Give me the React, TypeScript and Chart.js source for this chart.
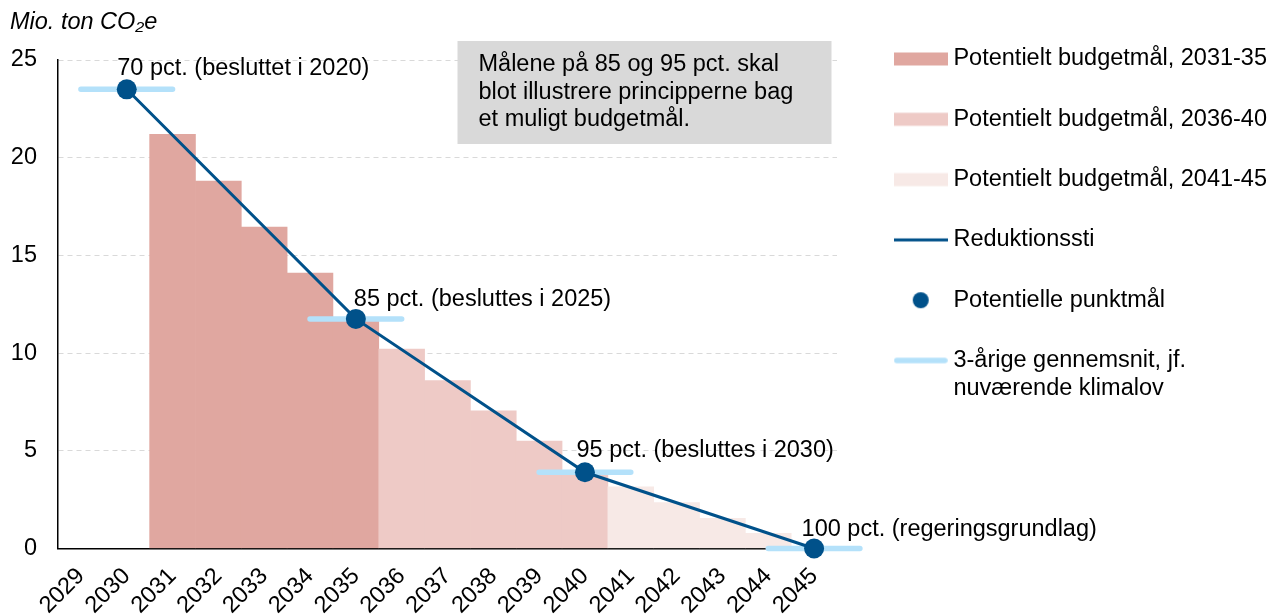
import React, { useEffect, useRef } from 'react';
import { Chart, registerables } from 'chart.js';

Chart.register(...registerables);

const FONT = "'Liberation Sans', Arial, Helvetica, sans-serif";
const FS = 23.5;

// ---- data ----
const years = ['2029', '2030', '2031', '2032', '2033', '2034', '2035', '2036', '2037', '2038', '2039', '2040', '2041', '2042', '2043', '2044', '2045'];
const extraYear = '2046'; // only used as the right end of the last 3-year span
const yTicks = [0, 5, 10, 15, 20, 25];

const budget3135Years = ['2031', '2032', '2033', '2034', '2035'];
const budget3135Values = [21.2, 18.8, 16.45, 14.1, 11.75];
const budget3640Years = ['2036', '2037', '2038', '2039', '2040'];
const budget3640Values = [10.2, 8.6, 7.05, 5.5, 3.9];
const budget4145Years = ['2041', '2042', '2043', '2044'];
const budget4145Values = [3.15, 2.35, 1.55, 0.78];

const targetYears = ['2030', '2035', '2040', '2045'];
const targetValues = [23.5, 11.75, 3.9, 0];
const targetLabels = ['70 pct. (besluttet i 2020)', '85 pct. (besluttes i 2025)', '95 pct. (besluttes i 2030)', '100 pct. (regeringsgrundlag)'];

// 3-year averages: span from year before to year after each target year
const avgStartYears = ['2029', '2034', '2039', '2044'];
const avgEndYears = ['2031', '2036', '2041', '2046'];
const avgValues = [23.5, 11.75, 3.9, 0];

const noteLines = ['Målene på 85 og 95 pct. skal', 'blot illustrere principperne bag', 'et muligt budgetmål.'];
const legendTexts = [
  'Potentielt budgetmål, 2031-35',
  'Potentielt budgetmål, 2036-40',
  'Potentielt budgetmål, 2041-45',
  'Reduktionssti',
  'Potentielle punktmål',
  ['3-årige gennemsnit, jf.', 'nuværende klimalov'],
];

// ---- styles ----
const COL_DARK = '#e0a7a0';
const COL_MID = '#eecac6';
const COL_LIGHT = '#f7e9e6';
const BLUE = '#00518a';
const LIGHTBLUE = '#b4e1fa';

const labelDx = [-9.5, -2, -8.5, -12.5];
const labelDy = [-21, -19.5, -22, -18.5];

function makeMarker(kind: string, color: string): HTMLCanvasElement {
  const c = document.createElement('canvas');
  c.width = 54;
  c.height = 20;
  const g = c.getContext('2d')!;
  g.fillStyle = color;
  g.strokeStyle = color;
  if (kind === 'rect') {
    g.fillRect(0, 3.5, 54, 13);
  } else if (kind === 'line') {
    g.lineWidth = 3;
    g.beginPath();
    g.moveTo(0, 10);
    g.lineTo(54, 10);
    g.stroke();
  } else if (kind === 'thick') {
    g.lineWidth = 5.5;
    g.lineCap = 'round';
    g.beginPath();
    g.moveTo(3, 10);
    g.lineTo(51, 10);
    g.stroke();
  } else {
    g.beginPath();
    g.arc(27, 10, 8, 0, Math.PI * 2);
    g.fill();
  }
  return c;
}

const annotationPlugin = {
  id: 'annotations',
  afterDatasetsDraw(chart: any) {
    const ctx = chart.ctx;
    ctx.save();
    ctx.font = `${FS}px ${FONT}`;
    ctx.fillStyle = '#000';
    ctx.textAlign = 'left';
    ctx.textBaseline = 'middle';
    const meta = chart.getDatasetMeta(4);
    meta.data.forEach((el: any, i: number) => {
      ctx.fillText(targetLabels[i], el.x + labelDx[i], el.y + labelDy[i]);
    });
    // note box
    ctx.fillStyle = '#d9d9d9';
    ctx.fillRect(457.5, 41, 374, 103);
    ctx.fillStyle = '#000';
    ctx.textBaseline = 'alphabetic';
    noteLines.forEach((t, i) => {
      ctx.fillText(t, 478.5, 70.7 + i * 27.8);
    });
    ctx.restore();
  },
};

export default function App() {
  const ref = useRef<HTMLCanvasElement>(null);

  useEffect(() => {
    if (!ref.current) return;
    Chart.defaults.font.family = FONT;

    const bars = (ys: string[], vs: number[]) => ys.map((y, i) => ({ x: y, y: vs[i] }));
    const avgData: any[] = [];
    avgValues.forEach((v, i) => {
      if (i > 0) avgData.push({ x: years[years.indexOf(avgEndYears[i - 1]) + 1], y: null });
      avgData.push({ x: avgStartYears[i], y: v });
      avgData.push({ x: avgEndYears[i], y: v });
    });
    const targets = targetYears.map((y, i) => ({ x: y, y: targetValues[i] }));

    const markers = [
      makeMarker('rect', COL_DARK),
      makeMarker('rect', COL_MID),
      makeMarker('rect', COL_LIGHT),
      makeMarker('line', BLUE),
      makeMarker('dot', BLUE),
      makeMarker('thick', LIGHTBLUE),
    ];

    const barCommon = {
      type: 'bar' as const,
      grouped: false,
      barPercentage: 1,
      categoryPercentage: 1,
      borderWidth: 0,
    };

    const chart = new Chart(ref.current, {
      type: 'bar',
      data: {
        labels: [...years, extraYear],
        datasets: [
          { ...barCommon, label: legendTexts[0] as string, data: bars(budget3135Years, budget3135Values), backgroundColor: COL_DARK, order: 5 },
          { ...barCommon, label: legendTexts[1] as string, data: bars(budget3640Years, budget3640Values), backgroundColor: COL_MID, order: 4 },
          { ...barCommon, label: legendTexts[2] as string, data: bars(budget4145Years, budget4145Values), backgroundColor: COL_LIGHT, order: 3 },
          {
            type: 'line', label: 'Reduktionssti', data: targets, borderColor: BLUE, borderWidth: 3,
            pointRadius: 0, fill: false, tension: 0, clip: false, order: 1,
          } as any,
          {
            type: 'line', label: 'Potentielle punktmål', data: targets, showLine: false,
            pointRadius: 10, pointHoverRadius: 10, pointBackgroundColor: BLUE, pointBorderWidth: 0,
            borderColor: BLUE, clip: false, order: 0,
          } as any,
          {
            type: 'line', label: '3-årige gennemsnit', data: avgData, borderColor: LIGHTBLUE, borderWidth: 5.5,
            borderCapStyle: 'round', pointRadius: 0, spanGaps: false, fill: false, clip: false, order: 2,
          } as any,
        ],
      },
      options: {
        animation: false,
        responsive: true,
        maintainAspectRatio: false,
        layout: { padding: { left: 10, right: -3, top: 0, bottom: 0 } },
        events: [],
        scales: {
          x: {
            type: 'category',
            offset: true,
            min: years[0],
            max: years[years.length - 1],
            grid: { display: false, drawTicks: false },
            border: { display: true, color: '#000', width: 1.5 },
            ticks: {
              color: '#000', font: { size: FS, family: FONT }, minRotation: 45, maxRotation: 45,
              padding: 14, autoSkip: false,
            },
            afterFit: (s: any) => { s.height = 65.5; },
          },
          y: {
            type: 'linear', min: 0, max: 25, position: 'left',
            afterBuildTicks: (s: any) => { s.ticks = yTicks.map((v) => ({ value: v })); },
            grid: {
              color: (c: any) => (c.tick && c.tick.value === 0 ? 'rgba(0,0,0,0)' : '#d9d9d9'),
              lineWidth: 1, drawTicks: false,
            },
            border: { display: true, color: '#000', width: 1.5, dash: [5, 4] },
            ticks: { color: '#000', font: { size: FS, family: FONT }, padding: 21 },
            afterFit: (s: any) => { s.width = 48; },
          },
          yR: {
            type: 'linear', position: 'right', display: true,
            grid: { display: false, drawTicks: false },
            border: { display: false },
            ticks: { display: false },
            afterFit: (s: any) => { s.width = 25.9; },
          },
        },
        plugins: {
          tooltip: { enabled: false },
          title: {
            display: true, text: 'Mio. ton CO₂e', align: 'start', color: '#000',
            font: { family: FONT, size: FS, style: 'italic', weight: 'normal' },
            padding: { top: 8.4, bottom: 23.4 },
          },
          legend: {
            display: true, position: 'right', align: 'start', maxWidth: 600,
            title: { display: true, text: '', font: { size: 1 }, padding: { top: 9.25, bottom: 0 } },
            labels: {
              font: { family: FONT, size: FS },
              color: '#000',
              usePointStyle: true,
              pointStyleWidth: 42,
              padding: 36.8,
              generateLabels: () => legendTexts.map((t, i) => ({
                text: t as any,
                fillStyle: '#000',
                strokeStyle: '#000',
                lineWidth: 0,
                pointStyle: markers[i] as any,
                hidden: false,
                fontColor: '#000',
                datasetIndex: i,
              })),
            },
          },
        },
      },
      plugins: [annotationPlugin],
    });

    return () => chart.destroy();
  }, []);

  return (
    <div style={{ position: 'absolute', left: 0, top: 0, width: 1274, height: 614 }}>
      <canvas ref={ref} />
    </div>
  );
}
